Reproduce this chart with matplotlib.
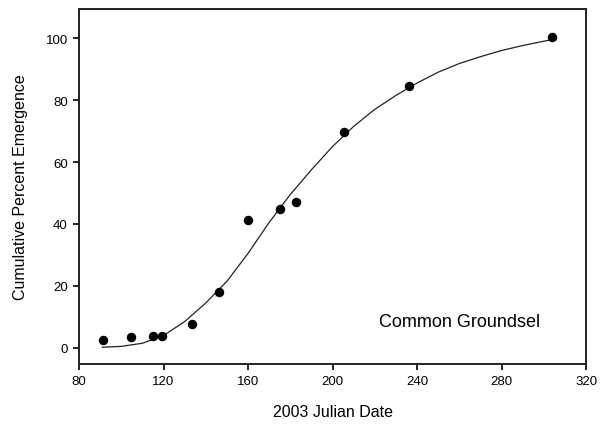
import matplotlib
matplotlib.use("Agg")
import matplotlib.pyplot as plt

# Observed data points
julian_date = [91.3, 104.4, 114.8, 119.5, 133.4, 146.2, 159.9, 175.3, 182.7, 205.5, 236.1, 303.7]
emergence = [2.7, 3.5, 3.8, 3.8, 7.7, 18.2, 41.4, 44.8, 47.2, 69.7, 84.6, 100.2]

# Fitted curve
curve_x = [91, 100, 110, 120, 130, 140, 150, 160, 170, 180, 190, 200, 210, 220,
           230, 240, 250, 260, 270, 280, 290, 300, 304]
curve_y = [0.2, 0.5, 1.5, 4.0, 8.5, 14.5, 21.5, 30.5, 40.5, 49.5, 57.5, 65.0, 71.5,
           77.0, 81.5, 85.5, 89.0, 91.8, 94.0, 96.0, 97.6, 99.0, 99.5]

x_ticks = [80, 120, 160, 200, 240, 280, 320]
y_ticks = [0, 20, 40, 60, 80, 100]

plt.rcParams['font.family'] = ['Liberation Sans', 'DejaVu Sans']

fig = plt.figure(figsize=(6.0, 4.31), dpi=100)
ax = fig.add_axes([0.1317, 0.1531, 0.845, 0.8237])

ax.plot(curve_x, curve_y, color='#222222', linewidth=0.9)
ax.plot(julian_date, emergence, 'o', color='black', markersize=5.8)

ax.set_xlim(80, 320)
ax.set_ylim(-5.2, 109.4)
ax.set_xticks(x_ticks)
ax.set_yticks(y_ticks)
ax.tick_params(direction='out', length=4.5, width=1.2, labelsize=9.5, colors='black')
for s in ax.spines.values():
    s.set_linewidth(1.4)
    s.set_color('#222222')

ax.set_xlabel('2003 Julian Date', fontsize=11.5, labelpad=12)
ax.set_ylabel('Cumulative Percent Emergence', fontsize=11.5, labelpad=13)
ax.text(222, 7.0, 'Common Groundsel', fontsize=13)

fig.savefig('out.png', dpi=100)
